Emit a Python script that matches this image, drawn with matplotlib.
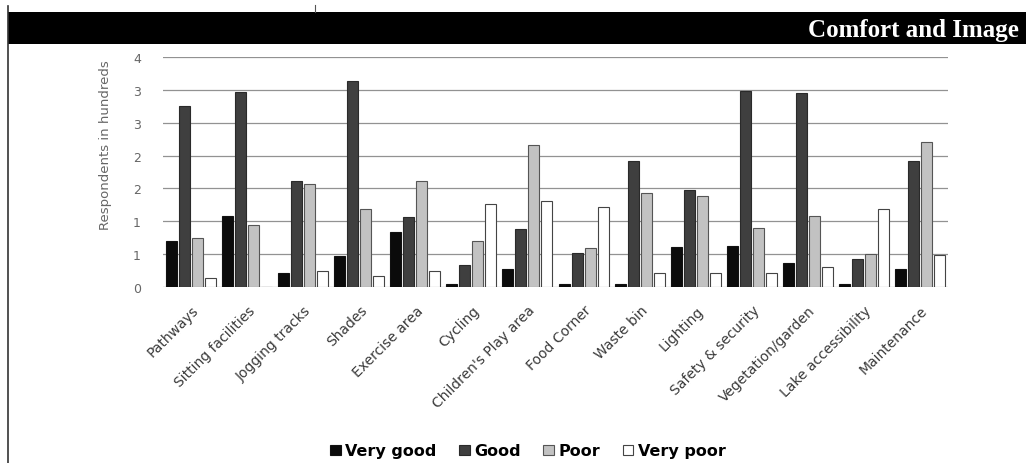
import matplotlib
matplotlib.use("Agg")
import matplotlib.pyplot as plt
import numpy as np
from matplotlib.patches import Rectangle, Patch
from matplotlib.lines import Line2D
from matplotlib.transforms import ScaledTranslation

# Facilities rated by park visitors (respondents, in hundreds)
categories = ["Pathways", "Sitting facilities", "Jogging tracks", "Shades",
              "Exercise area", "Cycling", "Children's Play area", "Food Corner",
              "Waste bin", "Lighting", "Safety & security", "Vegetation/garden",
              "Lake accessibility", "Maintenance"]
very_good = [0.70, 1.08, 0.21, 0.47, 0.83, 0.04, 0.27, 0.04, 0.05, 0.61, 0.63, 0.37, 0.04, 0.28]
good      = [2.76, 2.96, 1.61, 3.13, 1.06, 0.34, 0.88, 0.52, 1.92, 1.47, 2.99, 2.95, 0.43, 1.92]
poor      = [0.75, 0.95, 1.57, 1.19, 1.61, 0.70, 2.16, 0.59, 1.43, 1.39, 0.90, 1.08, 0.50, 2.20]
very_poor = [0.13, 0.00, 0.25, 0.17, 0.25, 1.27, 1.31, 1.21, 0.22, 0.22, 0.21, 0.30, 1.19, 0.49]
series_names = ["Very good", "Good", "Poor", "Very poor"]
y_ticks = [0, 0.5, 1.0, 1.5, 2.0, 2.5, 3.0, 3.5]
y_tick_labels = ["0", "1", "1", "2", "2", "3", "3", "4"]
title = "Comfort and Image"
y_label = "Respondents in hundreds"

W, H = 1026, 464
fig = plt.figure(figsize=(W / 100, H / 100), dpi=100)
fig.patch.set_facecolor("white")

def fx(px):
    return px / W

def fy(py):
    return 1 - py / H

# plot area in pixel terms
left, right, top, bottom = 163, 948, 58, 288
ax = fig.add_axes([fx(left), fy(bottom), fx(right - left), (bottom - top) / H])

fills = ["#0b0b0b", "#3f3f3f", "#c2c2c2", "#ffffff"]
edges = ["#111111", "#2a2a2a", "#555555", "#444444"]
data = [very_good, good, poor, very_poor]
x = np.arange(len(categories))
step, width = 0.232, 0.196
for i, (vals, fc, ec) in enumerate(zip(data, fills, edges)):
    ax.bar(x + (i - 1.5) * step, vals, width=width, color=fc, edgecolor=ec,
           linewidth=0.8, zorder=3, label=series_names[i])

ax.set_xlim(-0.5, len(categories) - 0.5)
ax.set_ylim(0, 3.5)
ax.set_yticks(y_ticks)
ax.set_yticklabels(y_tick_labels, fontsize=9, color="#666666")
ax.yaxis.grid(True, color="#929292", linewidth=0.9, zorder=0)
ax.set_axisbelow(True)
for s in ax.spines.values():
    s.set_visible(False)
ax.tick_params(axis="y", length=0, pad=16)
ax.tick_params(axis="x", length=0, pad=15)

ax.set_xticks(x)
ax.set_xticklabels(categories, rotation=45, ha="right", va="center",
                   rotation_mode="anchor", fontsize=10, color="#3a3a3a")
shift = ScaledTranslation(4 / 72, 0, fig.dpi_scale_trans)
for lab in ax.get_xticklabels():
    lab.set_transform(lab.get_transform() + shift)

fig.text(fx(106), fy(145), y_label, rotation=90, ha="center", va="center",
         fontsize=9.5, color="#666666")

# header banner
fig.patches.append(Rectangle((fx(8), fy(45)), 1, 32 / H, transform=fig.transFigure,
                             facecolor="black", edgecolor="none", zorder=1))
fig.text(fx(1019), fy(30), title, ha="right", va="center", color="white",
         fontsize=18, fontweight="bold", family="Liberation Serif", zorder=2)

# page frame marks
fig.add_artist(Line2D([fx(8), fx(8)], [fy(7), 0], transform=fig.transFigure,
                      color="#333333", linewidth=1.2))
fig.add_artist(Line2D([fx(315), fx(315)], [fy(6), fy(13)], transform=fig.transFigure,
                      color="#555555", linewidth=0.8))

handles = [Patch(facecolor=fc, edgecolor=ec, linewidth=0.8) for fc, ec in zip(fills, edges)]
fig.legend(handles, series_names, loc="center", bbox_to_anchor=(fx(528), fy(452)),
           ncol=4, frameon=False, handlelength=0.65, handleheight=0.65,
           handletextpad=0.3, columnspacing=1.4,
           prop={"size": 11.5, "weight": "bold"})

fig.savefig("out.png", dpi=100)
